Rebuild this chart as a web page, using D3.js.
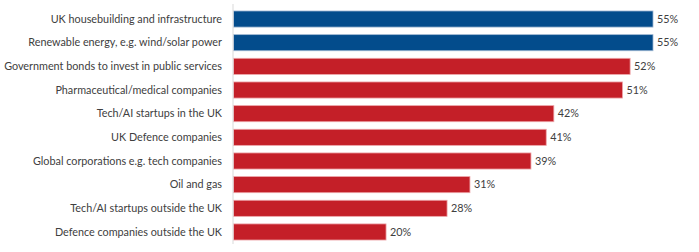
<!DOCTYPE html>
<html>
<head>
<meta charset="utf-8">
<script src="https://cdn.jsdelivr.net/npm/d3@7"></script>
<style>
    body { margin: 0; background: #fff; }
    svg text { font-family: Lato, sans-serif; fill: #404040; }
</style>
</head>
<body>
<div id="chart"></div>
<script>
var categories = [
    "UK housebuilding and infrastructure",
    "Renewable energy, e.g. wind/solar power",
    "Government bonds to invest in public services",
    "Pharmaceutical/medical companies",
    "Tech/AI startups in the UK",
    "UK Defence companies",
    "Global corporations e.g. tech companies",
    "Oil and gas",
    "Tech/AI startups outside the UK",
    "Defence companies outside the UK"
];
var values = [55, 55, 52, 51, 42, 41, 39, 31, 28, 20];
var highlighted = ["UK housebuilding and infrastructure", "Renewable energy, e.g. wind/solar power"];

var svg = d3.select("#chart")
        .append("svg")
        .attr("width", 699)
        .attr("height", 252),
    x0 = 233.5,
    x = d3.scaleLinear()
        .domain([0, 55])
        .range([x0, 653]),
    y = d3.scaleBand()
        .domain(categories)
        .range([7.2, 243.8])
        .paddingInner(0.32)
        .paddingOuter(0.16);

var data = categories.map(function(c, i) { return {cat: c, val: values[i]}; });

// bars
svg.selectAll(".bar")
    .data(data)
    .enter()
    .append("rect")
    .attr("class", "bar")
    .attr("x", x(0))
    .attr("y", function(d) { return y(d.cat); })
    .attr("width", function(d) { return x(d.val) - x(0); })
    .attr("height", y.bandwidth())
    .attr("fill", function(d) { return highlighted.indexOf(d.cat) >= 0 ? "#034C8C" : "#C41F28"; })
    .attr("stroke", function(d) { return highlighted.indexOf(d.cat) >= 0 ? "#9fb7d3" : "#eda4a8"; })
    .attr("stroke-width", 0.8);

// vertical axis line
svg.append("line")
    .attr("x1", x0 - 0.5)
    .attr("x2", x0 - 0.5)
    .attr("y1", 4)
    .attr("y2", 244)
    .attr("stroke", "#d9d9d9")
    .attr("stroke-width", 1);

// category labels
var cats = svg.selectAll(".cat")
    .data(data)
    .enter()
    .append("text")
    .attr("class", "cat")
    .attr("x", 222)
    .attr("y", function(d) { return y(d.cat) + y.bandwidth() / 2; })
    .attr("dy", "0.35em")
    .attr("text-anchor", "end")
    .style("font-size", "11px")
    .text(function(d) { return d.cat; });

// shrink font so the longest label spans about 218px like the original
var longest = d3.max(cats.nodes(), function(n) { return n.getComputedTextLength(); });
var fs = Math.min(12, 11 * 218 / longest);
cats.style("font-size", fs + "px");

// value labels
svg.selectAll(".val")
    .data(data)
    .enter()
    .append("text")
    .attr("class", "val")
    .attr("x", function(d) { return x(d.val) + 4; })
    .attr("y", function(d) { return y(d.cat) + y.bandwidth() / 2; })
    .attr("dy", "0.35em")
    .style("font-size", fs + "px")
    .text(function(d) { return d.val + "%"; });
</script>
</body>
</html>
